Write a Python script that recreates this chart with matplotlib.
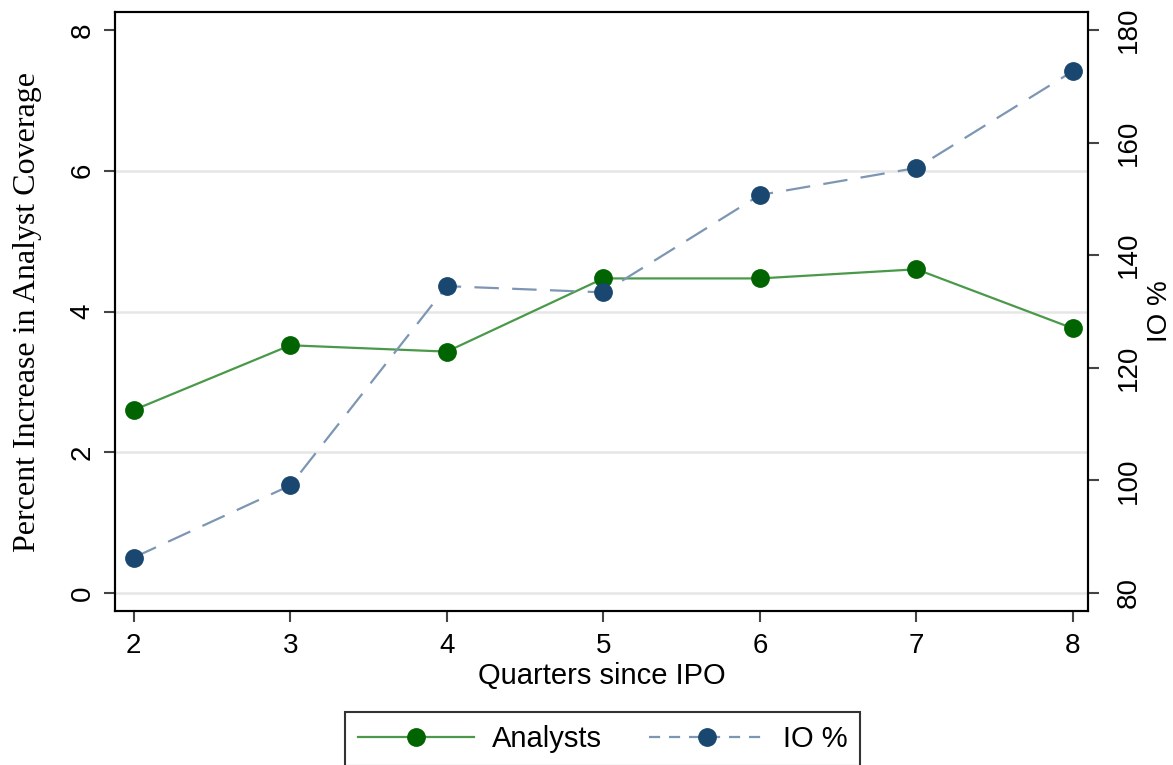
import matplotlib
matplotlib.use("Agg")
import matplotlib.pyplot as plt
from matplotlib.lines import Line2D

quarters = [2, 3, 4, 5, 6, 7, 8]
analysts = [2.60, 3.52, 3.43, 4.47, 4.47, 4.60, 3.76]
io_pct = [86.3, 99.1, 134.5, 133.4, 150.7, 155.5, 172.7]

left_ticks = [0, 2, 4, 6, 8]
right_ticks = [80, 100, 120, 140, 160, 180]
grid_vals = [0, 2, 4, 6]

plt.rcParams['font.family'] = ['Liberation Sans', 'DejaVu Sans']

fig = plt.figure(figsize=(11.73, 7.65), dpi=100)
ax = fig.add_axes([115/1173, 1 - 611/765, (1088 - 115)/1173, (611 - 12)/765])
ax2 = ax.twinx()

ylo, yhi = -0.256, 8.256
ax.set_ylim(ylo, yhi)
ax2.set_ylim(80 + 12.5*ylo, 80 + 12.5*yhi)
ax.set_xlim(1.88, 8.096)

for g in grid_vals:
    ax.axhline(g, color='#e6e6e6', lw=1.8, zorder=0)

green_line = '#4a994a'
green_mk = '#006400'
blue_line = '#7d96b3'
blue_mk = '#1a476f'

ax.plot(quarters, analysts, color=green_line, lw=1.6, zorder=3)
ax.plot(quarters, analysts, 'o', color=green_mk, ms=12.5, zorder=4)
ax2.plot(quarters, io_pct, color=blue_line, lw=1.6, dashes=(11, 6), zorder=3)
ax2.plot(quarters, io_pct, 'o', color=blue_mk, ms=12.5, zorder=4)

ax.set_xticks(quarters)
ax.set_yticks(left_ticks)
ax2.set_yticks(right_ticks)

for a in (ax, ax2):
    for s in a.spines.values():
        s.set_linewidth(1.5)
        s.set_color('black')

ax.tick_params(axis='x', direction='out', length=8, width=1.5, color='#444444',
               labelsize=20, pad=8)
ax.tick_params(axis='y', direction='out', length=8, width=1.5, color='#444444',
               labelsize=20, pad=6, labelrotation=90)
ax2.tick_params(axis='y', direction='out', length=8, width=1.5, color='#444444',
                labelsize=20, pad=12, labelrotation=90)
for lab in ax.get_yticklabels() + ax2.get_yticklabels():
    lab.set_va('center')

ax.set_xlabel('Quarters since IPO', fontsize=21, labelpad=2)
ax.set_ylabel('Percent Increase in Analyst Coverage', fontsize=23,
              family=['Liberation Serif', 'DejaVu Serif'], labelpad=20)
ax2.set_ylabel('IO %', fontsize=20, va='center')
ax2.yaxis.set_label_coords((1160 - 115)/973, 0.5)

handles = [
    Line2D([], [], color=green_line, lw=1.6, marker='o', mfc=green_mk, mec=green_mk, ms=12.5),
    Line2D([], [], color=blue_line, lw=1.6, dashes=(5, 4), marker='o', mfc=blue_mk, mec=blue_mk, ms=12.5),
]
leg = fig.legend(handles, ['Analysts', 'IO %'], loc='upper center',
                 bbox_to_anchor=(602.5/1173, 1 - 712/765), ncol=2, fontsize=21,
                 frameon=True, fancybox=False, edgecolor='black', handlelength=4.0,
                 columnspacing=1.6, borderpad=0.45, handletextpad=0.6, borderaxespad=0)
leg.get_frame().set_linewidth(1.5)

fig.savefig('out.png', dpi=100)
